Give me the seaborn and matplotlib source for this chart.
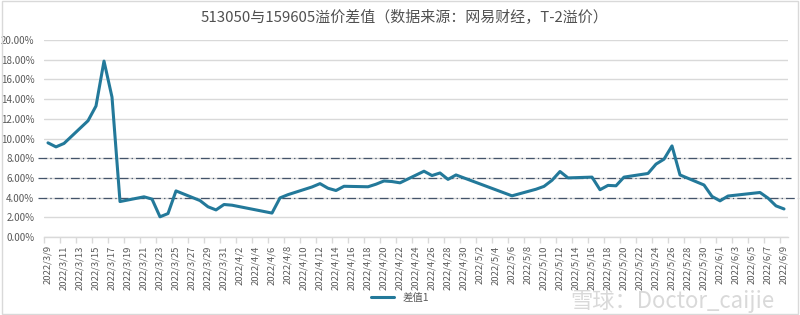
import matplotlib
matplotlib.use("Agg")
import matplotlib.pyplot as plt
import matplotlib.dates as mdates
from matplotlib.ticker import PercentFormatter, FixedLocator
from matplotlib.lines import Line2D
from matplotlib.patches import Rectangle
import seaborn as sns
import pandas as pd

# ---- data ----
dates = ["2022-03-09", "2022-03-10", "2022-03-11", "2022-03-14", "2022-03-15", "2022-03-16",
         "2022-03-17", "2022-03-18", "2022-03-21", "2022-03-22", "2022-03-23", "2022-03-24",
         "2022-03-25", "2022-03-28", "2022-03-29", "2022-03-30", "2022-03-31", "2022-04-01",
         "2022-04-06", "2022-04-07", "2022-04-08", "2022-04-11", "2022-04-12", "2022-04-13",
         "2022-04-14", "2022-04-15", "2022-04-18", "2022-04-19", "2022-04-20", "2022-04-21",
         "2022-04-22", "2022-04-25", "2022-04-26", "2022-04-27", "2022-04-28", "2022-04-29",
         "2022-05-06", "2022-05-09", "2022-05-10", "2022-05-11", "2022-05-12", "2022-05-13",
         "2022-05-16", "2022-05-17", "2022-05-18", "2022-05-19", "2022-05-20", "2022-05-23",
         "2022-05-24", "2022-05-25", "2022-05-26", "2022-05-27", "2022-05-30", "2022-05-31",
         "2022-06-01", "2022-06-02", "2022-06-06", "2022-06-07", "2022-06-08", "2022-06-09"]
diff_values = [9.56, 9.15, 9.50, 11.80, 13.30, 17.86,
               14.20, 3.60, 4.08, 3.85, 2.05, 2.38,
               4.68, 3.70, 3.07, 2.75, 3.30, 3.23,
               2.43, 3.97, 4.30, 5.08, 5.42, 4.95,
               4.72, 5.15, 5.10, 5.36, 5.69, 5.63,
               5.50, 6.68, 6.24, 6.50, 5.85, 6.30,
               4.18, 4.85, 5.14, 5.76, 6.65, 6.00,
               6.08, 4.80, 5.24, 5.20, 6.08, 6.45,
               7.40, 7.90, 9.25, 6.30, 5.28, 4.12,
               3.67, 4.16, 4.52, 3.95, 3.16, 2.85]
series_name = "差值1"
ref_levels = [4, 6, 8]
title = "513050与159605溢价差值（数据来源：网易财经，T-2溢价）"
tick_start, tick_end = "2022-03-09", "2022-06-09"

df = pd.DataFrame({"date": pd.to_datetime(dates), "value": diff_values})

sns.set_theme(style="white")
plt.rcParams["font.family"] = ["Noto Sans CJK SC", "DejaVu Sans"]

LINE = "#23799A"
GRID = "#D9D9D9"
TXT = "#595959"

fig = plt.figure(figsize=(8, 3.15), dpi=100)
ax = fig.add_axes([0.055, 0.2476, 0.93, 0.6254])

# gridlines
ax.set_ylim(0, 20)
ax.set_yticks(range(0, 21, 2))
ax.yaxis.grid(True, color=GRID, linewidth=1.0)
ax.set_axisbelow(True)

# reference dash-dot lines (extend slightly outside plot area)
for lv in ref_levels:
    ax.plot([-0.008, 1.004 if lv != 4 else 1.02], [lv / 20, lv / 20], transform=ax.transAxes,
            color="#44546A", linestyle=(0, (7, 2.5, 1, 2.5)), linewidth=0.9, clip_on=False,
            zorder=2)

sns.lineplot(data=df, x="date", y="value", ax=ax, color=LINE, linewidth=2.2, zorder=3,
             legend=False)

tick_dates = pd.date_range(tick_start, tick_end, freq="2D")
half = pd.Timedelta(hours=12)
ax.set_xlim(pd.Timestamp(tick_start) - half, pd.Timestamp(tick_end) + half)
ax.xaxis.set_major_locator(FixedLocator(mdates.date2num(tick_dates)))
ax.set_xticklabels([f"{d.year}/{d.month}/{d.day}" for d in tick_dates], rotation=90,
                   fontsize=6.8, color=TXT)
ax.xaxis.set_minor_locator(FixedLocator(mdates.date2num(tick_dates - half)))
ax.tick_params(axis="x", which="major", length=0, pad=6)
ax.tick_params(axis="x", which="minor", length=4, color=GRID, width=1, bottom=True)
ax.tick_params(axis="y", length=0, pad=7, labelsize=7, labelcolor=TXT)
ax.yaxis.set_major_formatter(PercentFormatter(decimals=2))
ax.set_xlabel("")
ax.set_ylabel("")

for s in ["top", "right", "left"]:
    ax.spines[s].set_visible(False)
ax.spines["bottom"].set_color(GRID)
ax.spines["bottom"].set_linewidth(1)

fig.text(0.505, 0.945, title, ha="center", va="center", fontsize=10.8, color="#505050")

handle = Line2D([], [], color=LINE, linewidth=2.2)
fig.legend([handle], [series_name], loc="center", bbox_to_anchor=(0.5, 0.055), frameon=False,
           fontsize=7.5, handlelength=2.2, labelcolor=TXT)

# watermark
fig.text(0.968, 0.042, "雪球：Doctor_caijie", ha="right", va="center", fontsize=16,
         color="#D5D5D5", alpha=0.9)

fig.patches.append(Rectangle((0.002, 0.003), 0.996, 0.994, transform=fig.transFigure,
                             fill=False, edgecolor=GRID, linewidth=1))

fig.savefig("out.png", dpi=100)
